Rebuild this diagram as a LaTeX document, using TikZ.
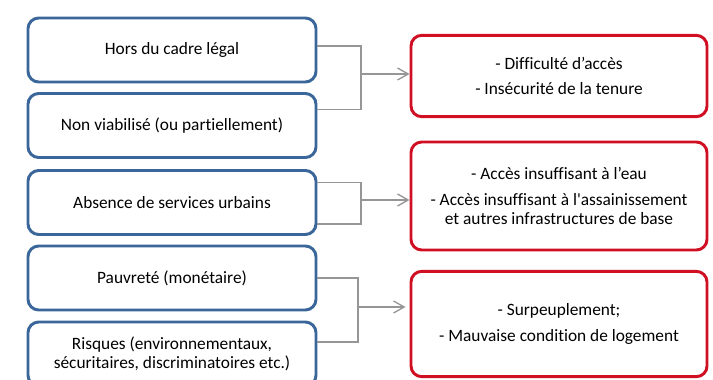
\documentclass[tikz,border=0pt]{standalone}
\usepackage{fontspec}
\setmainfont[Ligatures={NoCommon,TeXOff}]{Carlito}
\usepackage{xcolor}
\usetikzlibrary{arrows.meta,positioning,calc}
\definecolor{causeblue}{RGB}{58,102,153}
\definecolor{effectred}{RGB}{208,16,34}
\definecolor{linkgray}{RGB}{150,150,150}

\begin{document}
\begin{tikzpicture}[x=0.75pt,y=-0.75pt,every node/.style={font=\fontsize{13}{14.3}\selectfont},
 cause/.style={draw=causeblue,line width=2.2pt,rounded corners=8pt,fill=white,minimum width=216pt,minimum height=48pt,align=center},
 effect/.style={draw=effectred,line width=2.2pt,rounded corners=8pt,fill=white,minimum width=222pt,align=center},
 link/.style={draw=linkgray,line width=1pt},
 linkarr/.style={link,-{Straight Barb[length=8pt,width=9pt]}}]
\useasboundingbox (0,0) rectangle (713,379);
% causes
\node[cause] (legal) at (172,50) {Hors du cadre légal};
\node[cause] (viab) at (172,125.5) {Non viabilisé (ou partiellement)};
\node[cause] (serv) at (172,202.5) {Absence de services urbains};
\node[cause] (pauv) at (172,278) {Pauvreté (monétaire)};
\node[cause] (risq) at (172,354) {Risques (environnementaux,\\sécuritaires, discriminatoires etc.)};
% consequences
\node[effect,minimum height=61pt] (tenure) at (559,76) {- Difficulté d’accès\\[5pt]- Insécurité de la tenure};
\node[effect,minimum height=81pt] (eau) at (559,196) {- Accès insuffisant à l’eau\\[5pt]- Accès insuffisant à l'assainissement\\et autres infrastructures de base};
\node[effect,minimum height=79pt] (logt) at (559,324) {- Surpeuplement;\\[5pt]- Mauvaise condition de logement};
% connectors
\coordinate (j1) at (361,74);
\coordinate (j2) at (361,200);
\coordinate (j3) at (358,307);
\draw[link] ([yshift=3pt]legal.east) -| (j1);
\draw[link] ([yshift=12pt]viab.east) -| (j1);
\draw[linkarr] (j1) -- (j1 -| tenure.west);
\draw[link] ([yshift=15pt]serv.east) -| (j2);
\draw[link] ([yshift=-16pt]serv.east) -| (j2);
\draw[linkarr] (j2) -- (j2 -| eau.west);
\draw[link] (pauv.east) -| (j3);
\draw[link] ([yshift=9pt]risq.east) -| (j3);
\draw[linkarr] (j3) -- ([xshift=-3pt]j3 -| logt.west);
\end{tikzpicture}
\end{document}
